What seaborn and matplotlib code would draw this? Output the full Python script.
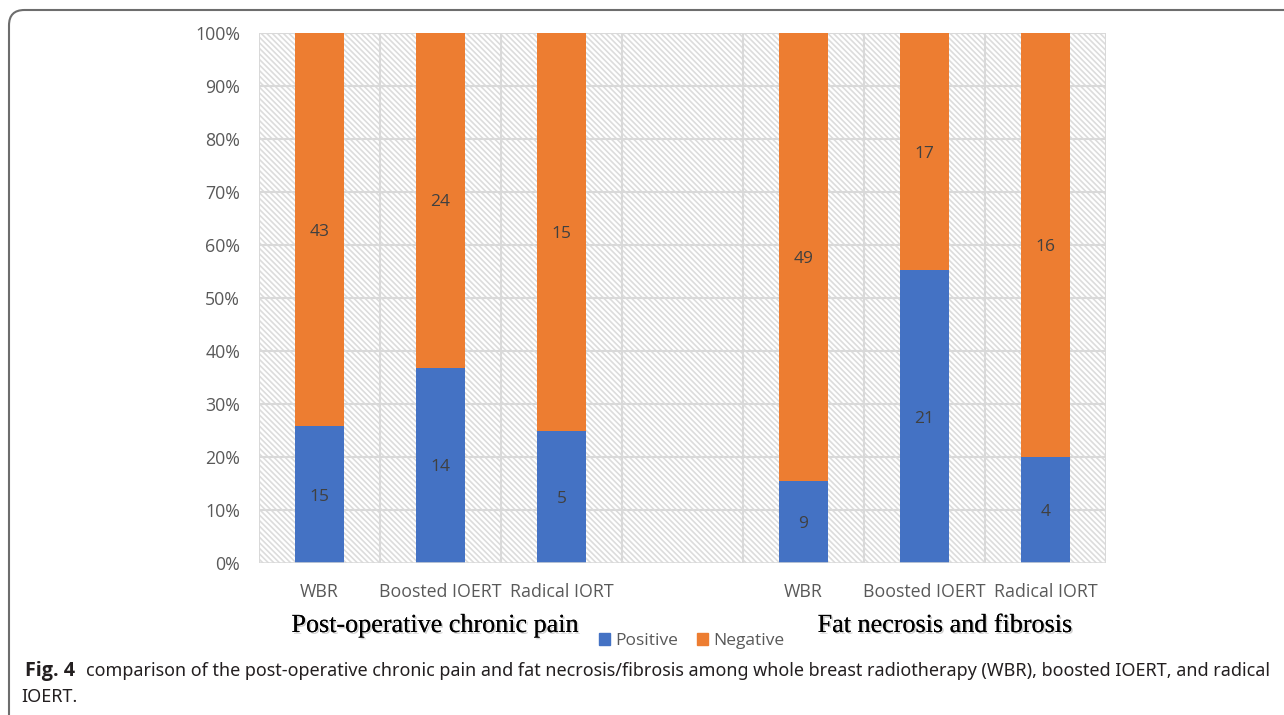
import matplotlib
matplotlib.use("Agg")
import matplotlib.pyplot as plt
import matplotlib.patheffects as pe
from matplotlib.patches import Rectangle, FancyBboxPatch
from matplotlib.ticker import PercentFormatter
import seaborn as sns
import pandas as pd

# Outcome counts per treatment arm
groups = ["Post-operative chronic pain", "Fat necrosis and fibrosis"]
arms = ["WBR", "Boosted IOERT", "Radical IORT"]
pain_positive = [15, 14, 5]
pain_negative = [43, 24, 15]
fat_positive = [9, 21, 4]
fat_negative = [49, 17, 16]
series_names = ["Positive", "Negative"]
colors = {"Positive": "#4472c4", "Negative": "#ed7d31"}

# Seven slots along x: three arms, a blank spacer, three arms
slots = [0, 1, 2, 4, 5, 6]
tick_labels = arms + [""] + arms
pos = pain_positive + fat_positive
neg = pain_negative + fat_negative
df = pd.DataFrame({
    "slot": slots,
    "positive": pos,
    "negative": neg,
})
df["total"] = df["positive"] + df["negative"]
df["pos_share"] = df["positive"] / df["total"] * 100
df["full"] = 100.0

sns.set_theme(style="white")
plt.rcParams["font.family"] = ["Open Sans", "DejaVu Sans"]
plt.rcParams["hatch.linewidth"] = 1.2
plt.rcParams["hatch.color"] = "#dcdcdc"

fig = plt.figure(figsize=(12.84, 7.15), dpi=100)
ax = fig.add_axes([259 / 1284, 1 - 563 / 715, (1106 - 259) / 1284, (563 - 33) / 715])

# Hatched plot background
ax.add_patch(Rectangle((0, 0), 1, 1, transform=ax.transAxes, facecolor="white",
                       edgecolor="#dcdcdc", hatch="\\\\\\\\\\\\", lw=0, zorder=0))

order = list(range(7))
sns.barplot(data=df, x="slot", y="full", order=order, color=colors["Negative"],
            width=0.4, saturation=1, ax=ax, zorder=3, linewidth=0)
sns.barplot(data=df, x="slot", y="pos_share", order=order, color=colors["Positive"],
            width=0.4, saturation=1, ax=ax, zorder=4, linewidth=0)

ax.set_xlim(-0.5, 6.5)
ax.set_ylim(0, 100)
ax.set_yticks(range(0, 101, 10))
ax.yaxis.set_major_formatter(PercentFormatter(decimals=0))
ax.set_xticks(order)
ax.set_xticklabels(tick_labels)
ax.set_xlabel("")
ax.set_ylabel("")
ax.tick_params(axis="both", length=0, labelsize=12.8, colors="#595959")
ax.tick_params(axis="y", pad=13.5)
ax.tick_params(axis="x", pad=14.5)

# Grid: horizontal at each 10 %, vertical at slot boundaries
grid_kw = dict(color="#d9d9d9", lw=1.5, zorder=1)
for y in range(10, 101, 10):
    ax.axhline(y, **grid_kw)
for b in range(8):
    ax.axvline(b - 0.5, **grid_kw)
for s in ax.spines.values():
    s.set_visible(False)
ax.axhline(0, color="#d9d9d9", lw=1.8, zorder=5)

# Value labels centred in each segment
for _, r in df.iterrows():
    ax.text(r["slot"], r["pos_share"] / 2 - 0.4, f"{int(r['positive'])}", ha="center",
            va="center", fontsize=12.5, color="#404040", zorder=6)
    ax.text(r["slot"], r["pos_share"] + (100 - r["pos_share"]) / 2 - 0.4,
            f"{int(r['negative'])}", ha="center", va="center", fontsize=12.5,
            color="#404040", zorder=6)

# Group titles under each set of arms
shadow = [pe.withSimplePatchShadow(offset=(1.2, -1.2), shadow_rgbFace="#999999", alpha=0.45),
          pe.Normal()]
fig.text(435 / 1284, 1 - 626 / 715, groups[0], ha="center", va="center",
         family="Liberation Serif", fontsize=18.8, color="black", path_effects=shadow)
fig.text(945 / 1284, 1 - 626 / 715, groups[1], ha="center", va="center",
         family="Liberation Serif", fontsize=18.8, color="black", path_effects=shadow)

# Legend
handles = [Rectangle((0, 0), 1, 1, color=colors[n]) for n in series_names]
fig.legend(handles, series_names, loc="center", bbox_to_anchor=(692 / 1284, 1 - 641 / 715),
           ncol=2, frameon=False, fontsize=12.5, labelcolor="#595959",
           handlelength=0.63, handleheight=0.63, handletextpad=0.3, columnspacing=1.1)

# Caption
cap_y1 = 1 - 671 / 715
cap_y2 = 1 - 697 / 715
fig.text(25 / 1284, cap_y1, "Fig. 4", ha="left", va="center", fontsize=14.2,
         fontweight="bold", family="Open Sans", color="#231f20")
fig.text(86 / 1284, cap_y1,
         "comparison of the post-operative chronic pain and fat necrosis/fibrosis among whole breast "
         "radiotherapy (WBR), boosted IOERT, and radical",
         ha="left", va="center", fontsize=12.98, family="Noto Sans", color="#231f20")
fig.text(21 / 1284, cap_y2, "IOERT.", ha="left", va="center", fontsize=12.98,
         family="Noto Sans", color="#231f20")

# Rounded frame around the figure
frame = FancyBboxPatch((9 / 1284, -0.2), 1.2, 1 - 10 / 715 + 0.2,
                       boxstyle="round,pad=0,rounding_size=0.012",
                       transform=fig.transFigure, facecolor="none",
                       edgecolor="#6d6d6d", lw=1.5, mutation_aspect=1284 / 715)
fig.patches.append(frame)

fig.savefig("out.png", dpi=100)
